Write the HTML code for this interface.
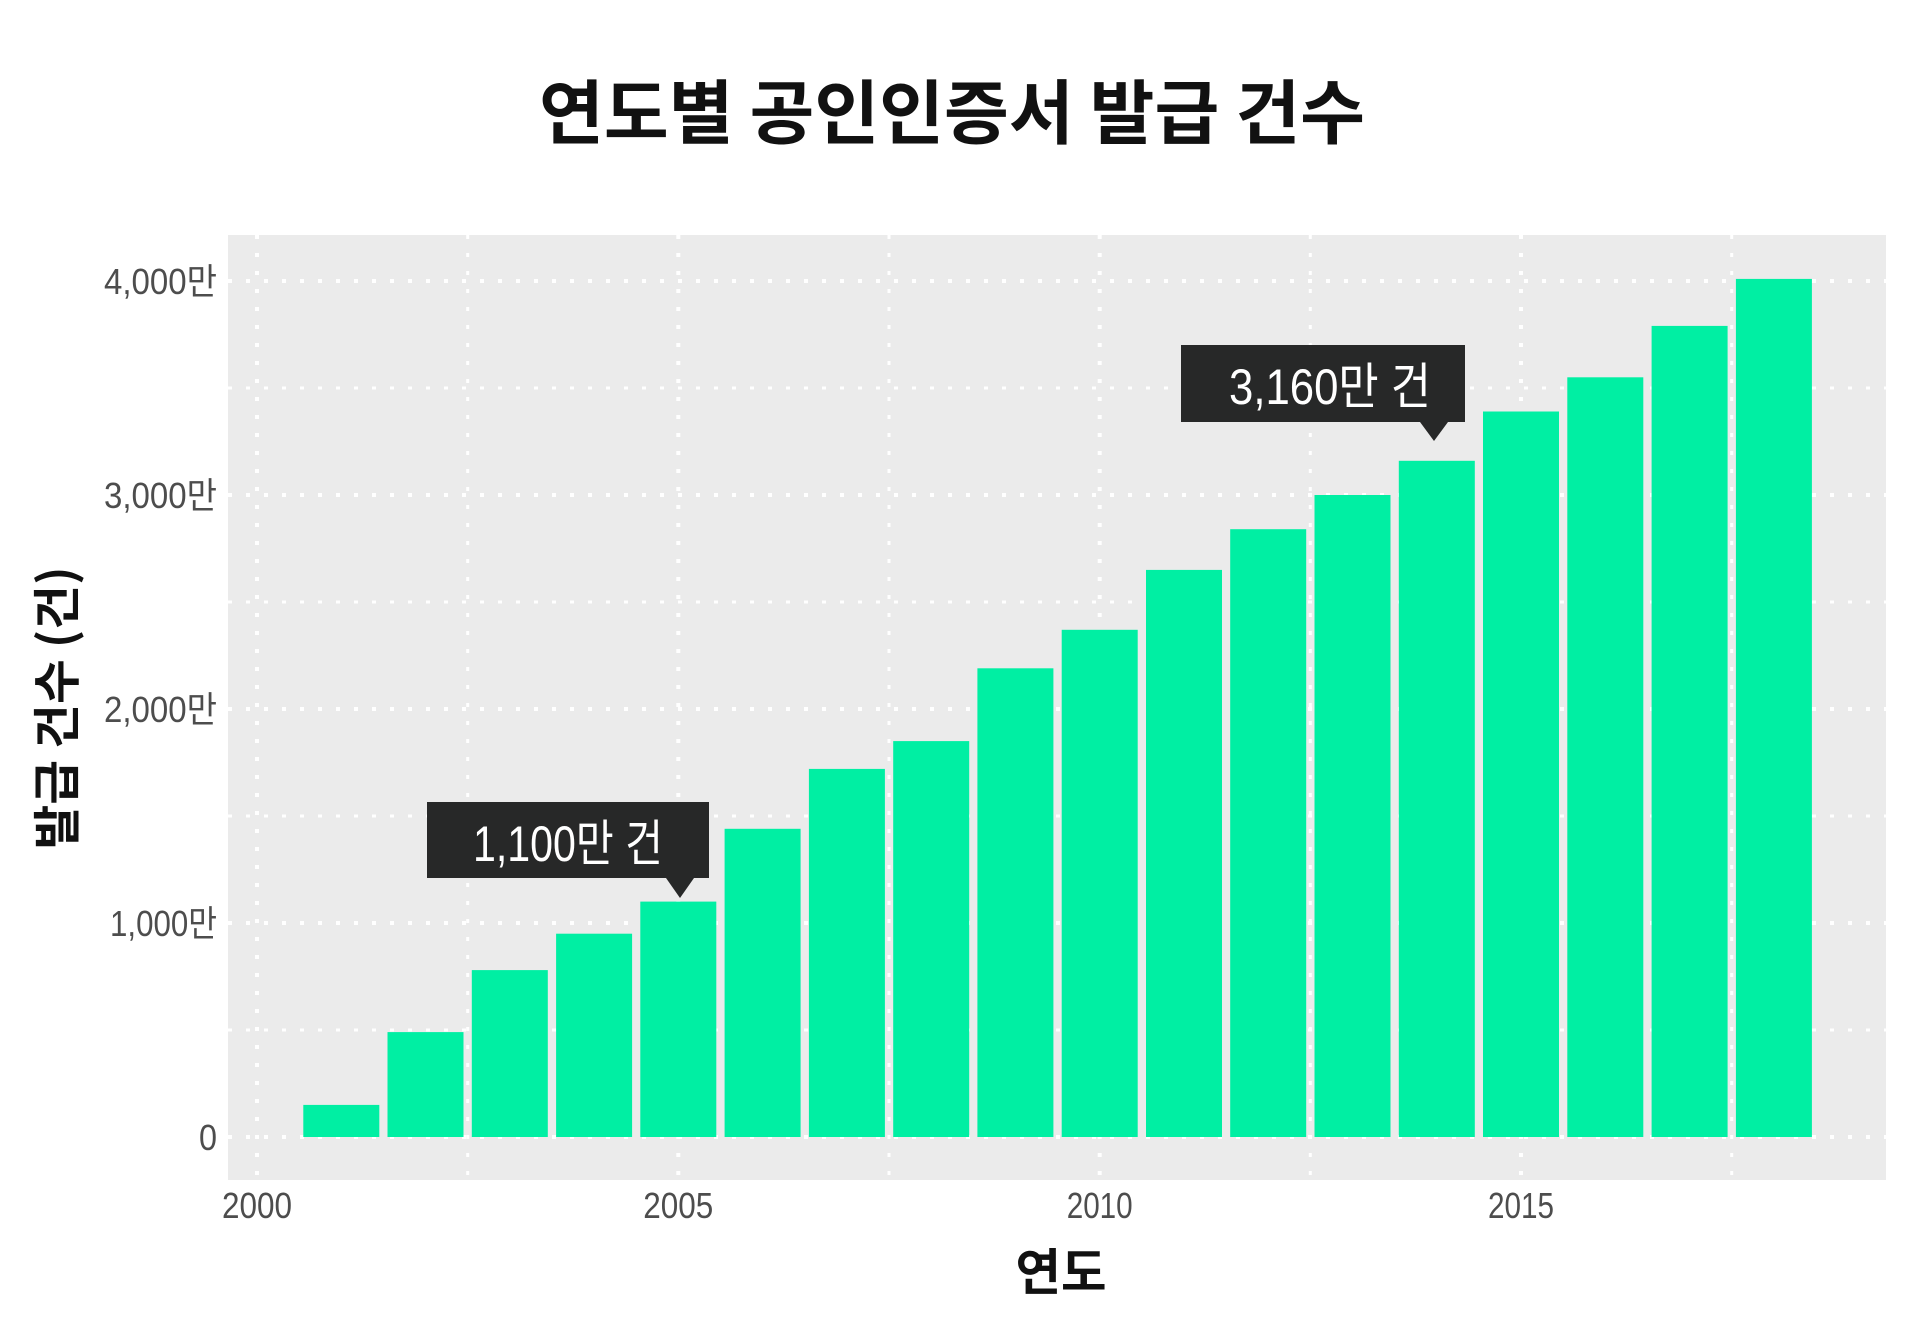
<!DOCTYPE html>
<html><head><meta charset="utf-8"><style>
html,body{margin:0;padding:0;background:#fff;}
svg{display:block;}
text{font-family:"Liberation Sans","Noto Sans CJK KR",sans-serif;}
</style></head><body>
<svg width="1920" height="1329" viewBox="0 0 1920 1329" xmlns="http://www.w3.org/2000/svg">
<rect x="0" y="0" width="1920" height="1329" fill="#fff"/>
<text x="952" y="138" text-anchor="middle" font-size="70" font-weight="bold" fill="#111" textLength="826" lengthAdjust="spacingAndGlyphs" style="font-family:'Noto Sans CJK KR',sans-serif">연도별 공인인증서 발급 건수</text>
<rect x="228" y="235" width="1658" height="945" fill="#ebebeb"/>
<g stroke="#fff" stroke-width="4" stroke-dasharray="4 14" fill="none">
<line x1="228" x2="1886" y1="1137" y2="1137"/>
<line x1="228" x2="1886" y1="1030" y2="1030" stroke-width="3"/>
<line x1="228" x2="1886" y1="923" y2="923"/>
<line x1="228" x2="1886" y1="816" y2="816" stroke-width="3"/>
<line x1="228" x2="1886" y1="709" y2="709"/>
<line x1="228" x2="1886" y1="602" y2="602" stroke-width="3"/>
<line x1="228" x2="1886" y1="495" y2="495"/>
<line x1="228" x2="1886" y1="388" y2="388" stroke-width="3"/>
<line x1="228" x2="1886" y1="281" y2="281"/>
<line x1="257" x2="257" y1="235" y2="1180"/>
<line x1="467.7" x2="467.7" y1="235" y2="1180" stroke-width="3"/>
<line x1="678.3" x2="678.3" y1="235" y2="1180"/>
<line x1="889" x2="889" y1="235" y2="1180" stroke-width="3"/>
<line x1="1099.7" x2="1099.7" y1="235" y2="1180"/>
<line x1="1310.3" x2="1310.3" y1="235" y2="1180" stroke-width="3"/>
<line x1="1521" x2="1521" y1="235" y2="1180"/>
<line x1="1731.7" x2="1731.7" y1="235" y2="1180" stroke-width="3"/>
</g>
<g fill="#00efa3">
<rect x="303.3" y="1104.9" width="76" height="32.1"/>
<rect x="387.5" y="1032.1" width="76" height="104.9"/>
<rect x="471.8" y="970.1" width="76" height="166.9"/>
<rect x="556.1" y="933.7" width="76" height="203.3"/>
<rect x="640.3" y="901.6" width="76" height="235.4"/>
<rect x="724.6" y="828.8" width="76" height="308.2"/>
<rect x="808.9" y="768.9" width="76" height="368.1"/>
<rect x="893.2" y="741.1" width="76" height="395.9"/>
<rect x="977.4" y="668.3" width="76" height="468.7"/>
<rect x="1061.7" y="629.8" width="76" height="507.2"/>
<rect x="1146" y="569.9" width="76" height="567.1"/>
<rect x="1230.2" y="529.2" width="76" height="607.8"/>
<rect x="1314.5" y="495" width="76" height="642"/>
<rect x="1398.8" y="460.8" width="76" height="676.2"/>
<rect x="1483" y="411.5" width="76" height="725.5"/>
<rect x="1567.3" y="377.3" width="76" height="759.7"/>
<rect x="1651.6" y="325.9" width="76" height="811.1"/>
<rect x="1735.9" y="278.9" width="76" height="858.1"/>
</g>
<g fill="#4d4d4d" font-size="36" text-anchor="end">
<text x="217" y="1150" textLength="18" lengthAdjust="spacingAndGlyphs">0</text>
<text x="217" y="936" textLength="107" lengthAdjust="spacingAndGlyphs">1,000만</text>
<text x="217" y="722" textLength="113" lengthAdjust="spacingAndGlyphs">2,000만</text>
<text x="217" y="508" textLength="113" lengthAdjust="spacingAndGlyphs">3,000만</text>
<text x="217" y="294" textLength="113" lengthAdjust="spacingAndGlyphs">4,000만</text>
</g>
<g fill="#4d4d4d" font-size="36" text-anchor="middle">
<text x="257" y="1218" textLength="70" lengthAdjust="spacingAndGlyphs">2000</text>
<text x="678.3" y="1218" textLength="70" lengthAdjust="spacingAndGlyphs">2005</text>
<text x="1099.7" y="1218" textLength="66" lengthAdjust="spacingAndGlyphs">2010</text>
<text x="1521" y="1218" textLength="66" lengthAdjust="spacingAndGlyphs">2015</text>
</g>
<text x="1061" y="1290" text-anchor="middle" font-size="50" font-weight="bold" fill="#111" textLength="91" lengthAdjust="spacingAndGlyphs" style="font-family:'Noto Sans CJK KR',sans-serif">연도</text>
<text transform="translate(74,708) rotate(-90)" text-anchor="middle" font-size="48" font-weight="bold" fill="#111" textLength="283" lengthAdjust="spacingAndGlyphs" style="font-family:'Noto Sans CJK KR',sans-serif">발급 건수 (건)</text>
<g fill="#272828">
<rect x="427" y="802" width="282" height="76"/>
<polygon points="666,878 694,878 680,898"/>
<rect x="1181" y="345" width="284" height="77"/>
<polygon points="1420,422 1448,422 1434,441"/>
</g>
<g fill="#fff" font-size="50">
<text x="473" y="861" textLength="190" lengthAdjust="spacingAndGlyphs">1,100만 건</text>
<text x="1229" y="404" textLength="202" lengthAdjust="spacingAndGlyphs">3,160만 건</text>
</g>
</svg>
</body></html>
